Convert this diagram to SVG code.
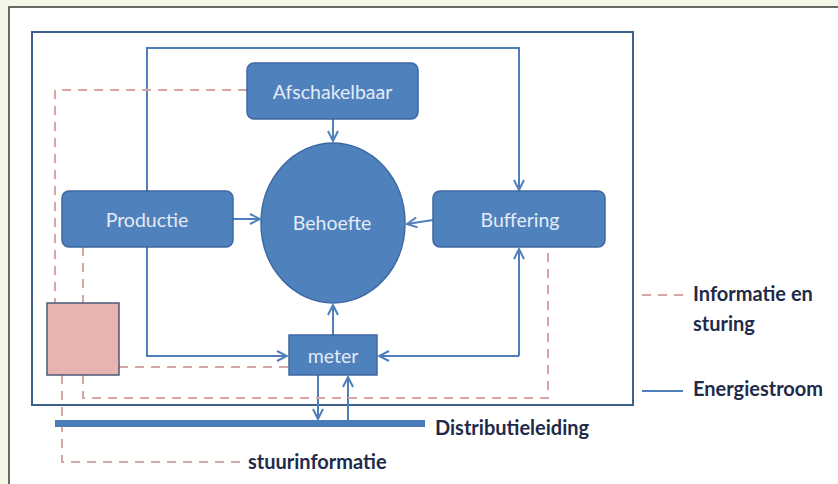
<svg xmlns="http://www.w3.org/2000/svg" width="838" height="484" viewBox="0 0 838 484">
<defs>
<style>
.node{fill:#4f81bd;stroke:#3d68a3;stroke-width:1.5}
.lbl{font-family:Lato,"Liberation Sans",sans-serif;font-size:19.5px;fill:#e4ebf5;text-anchor:middle;dominant-baseline:central}
.leg{font-family:Lato,"Liberation Sans",sans-serif;font-size:20px;font-weight:bold;fill:#1f2b4a;dominant-baseline:central}
.en{fill:none;stroke:#4f7fbb;stroke-width:2}
.inf{fill:none;stroke:#d8a5a5;stroke-width:2;stroke-dasharray:9,7}
</style>
<marker id="ah" viewBox="0 0 12 12" refX="11" refY="6" markerWidth="12" markerHeight="12" markerUnits="userSpaceOnUse" orient="auto">
<path d="M1,1 L11,6 L1,11" fill="none" stroke="#4f7fbb" stroke-width="2"/>
</marker>
</defs>
<rect x="0" y="0" width="838" height="484" fill="#f6f6e8"/>
<rect x="9" y="7" width="840" height="490" fill="#ffffff" stroke="#3a3a3a" stroke-width="1.5"/>
<rect id="systeem" x="32" y="32" width="601" height="373" fill="none" stroke="#3f5f8c" stroke-width="2"/>

<g id="connectors">
<path class="en" d="M147,191 V48 H519 V190" marker-end="url(#ah)"/>
<path class="en" d="M333,119 V141" marker-end="url(#ah)"/>
<path class="en" d="M233,219 H260" marker-end="url(#ah)"/>
<path class="en" d="M433,220 L407,224" marker-end="url(#ah)"/>
<path class="en" d="M333,335 V305" marker-end="url(#ah)"/>
<path class="en" d="M147,247 V356 H287" marker-end="url(#ah)"/>
<path class="en" d="M519,356 V249" marker-end="url(#ah)"/>
<path class="en" d="M519,356 H379" marker-end="url(#ah)"/>
<path class="en" d="M318,375 V419" marker-end="url(#ah)"/>
<path class="en" d="M348,420 V377" marker-end="url(#ah)"/>
<path class="inf" d="M247,90 H55 V303"/>
<path class="inf" d="M83,247 V303"/>
<path class="inf" d="M83,375 V398 H548 V247"/>
<path class="inf" d="M119,367 H289"/>
<path class="inf" d="M62,375 V462 H246"/>
</g>

<g id="distributieleiding">
<rect x="55" y="420" width="370" height="7" fill="#4a7cb8"/>
<text class="leg" x="435" y="427">Distributieleiding</text>
</g>

<g id="afschakelbaar">
<rect class="node" x="247" y="63" width="171" height="56" rx="7"/>
<text class="lbl" x="332.5" y="91">Afschakelbaar</text>
</g>
<g id="behoefte">
<ellipse class="node" cx="333" cy="223" rx="72" ry="80"/>
<text class="lbl" x="332" y="222">Behoefte</text>
</g>
<g id="productie">
<rect class="node" x="62" y="191" width="171" height="56" rx="7"/>
<text class="lbl" x="147" y="219">Productie</text>
</g>
<g id="buffering">
<rect class="node" x="433" y="191" width="172" height="56" rx="7"/>
<text class="lbl" x="520" y="219">Buffering</text>
</g>
<g id="meter">
<rect class="node" x="289" y="335" width="88" height="40"/>
<text class="lbl" x="333" y="355">meter</text>
</g>
<g id="sturing">
<rect x="47" y="303" width="72" height="72" fill="#e8b4b0" stroke="#4a5a78" stroke-width="1.5"/>
</g>
<g id="stuurinformatie">
<text class="leg" x="248" y="461">stuurinformatie</text>
</g>

<g id="legenda">
<line class="inf" x1="642" y1="295" x2="683" y2="295"/>
<text class="leg" x="693" y="293">Informatie en</text>
<text class="leg" x="693" y="323">sturing</text>
<line class="en" x1="642" y1="391" x2="683" y2="391" stroke="#3f5f8c"/>
<text class="leg" x="693" y="388">Energiestroom</text>
</g>
</svg>
